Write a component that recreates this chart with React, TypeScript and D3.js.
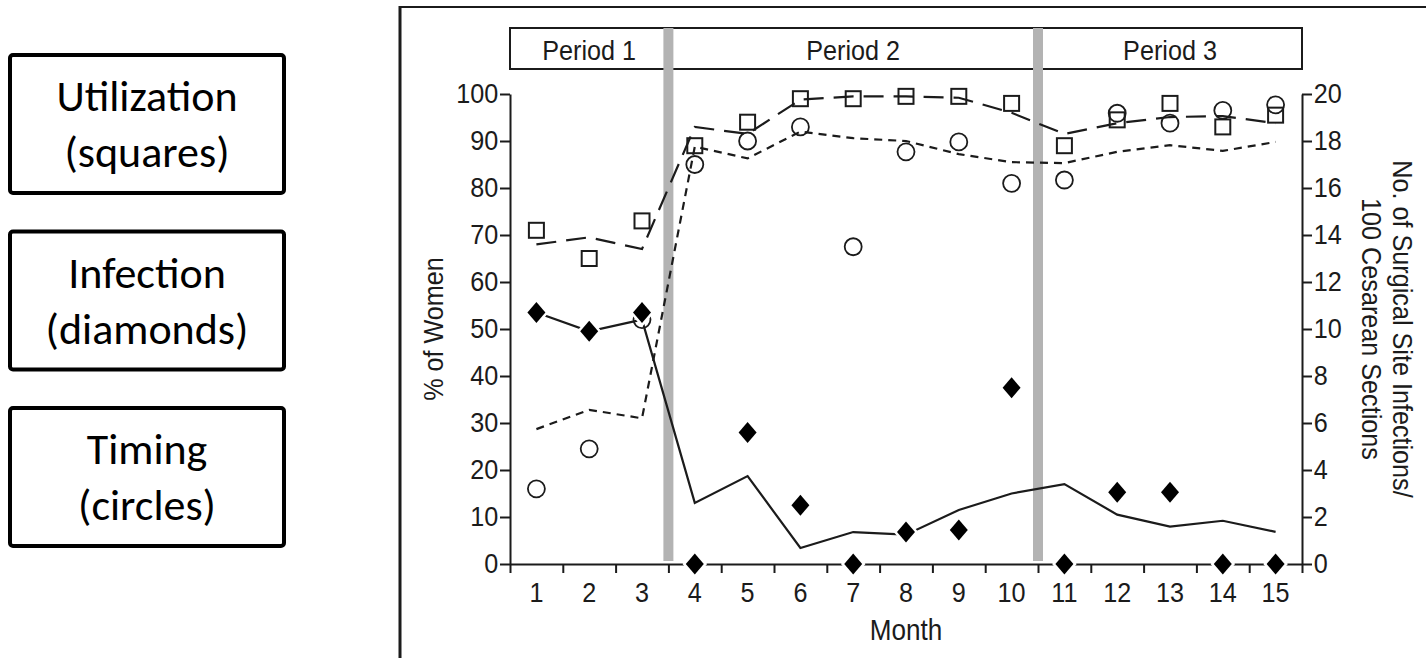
import React from "react";
import { select, scaleLinear, axisLeft, axisRight, axisBottom, line } from "d3";

// months on the x axis
const months = [1, 2, 3, 4, 5, 6, 7, 8, 9, 10, 11, 12, 13, 14, 15];
const halfTicks = [0.5, 1.5, 2.5, 3.5, 4.5, 5.5, 6.5, 7.5, 8.5, 9.5, 10.5, 11.5, 12.5, 13.5, 14.5, 15.5];
const leftTicks = [0, 10, 20, 30, 40, 50, 60, 70, 80, 90, 100];
const rightTicks = [0, 2, 4, 6, 8, 10, 12, 14, 16, 18, 20];

// % of women (left axis)
const utilization = [71, 65, 73, 89, 94, 99, 99, 99.5, 99.5, 98, 89, 94.5, 98, 93, 95.5];
const utilizationTrend = [68, 69.5, 67, 93, 91.5, 98.8, 99.5, 99.5, 99.2, 96, 91.5, 93.8, 95.1, 95.3, 93.8];
const timing = [16, 24.5, 52, 85, 90, 93, 67.5, 87.7, 89.8, 81, 81.7, 95.9, 93.8, 96.5, 97.7];
const timingTrend = [28.7, 32.8, 31, 88.8, 86.3, 92, 90.6, 90, 87.2, 85.5, 85.3, 87.7, 89.1, 87.9, 89.8];

// infections per 100 cesarean sections (right axis)
const infections = [10.7, 9.9, 10.7, 0, 5.6, 2.5, 0, 1.36, 1.45, 7.5, 0, 3.05, 3.05, 0, 0];
const infectionTrend = [10.7, 9.9, 10.4, 2.6, 3.74, 0.68, 1.36, 1.25, 2.3, 3.0, 3.4, 2.1, 1.59, 1.84, 1.37];

const periods = [
  { label: "Period 1", from: 0.5, to: 3.5 },
  { label: "Period 2", from: 3.5, to: 10.5 },
  { label: "Period 3", from: 10.5, to: 15.5 },
];
const periodBreaks = [3.5, 10.5];

const legendItems = [
  ["Utilization", "(squares)"],
  ["Infection", "(diamonds)"],
  ["Timing", "(circles)"],
];

const W = 1426;
const H = 658;
const INK = "#1b1b1b";
const FONT = "'Liberation Sans', Arial, sans-serif";
const SQ = 0.9; // condensed look

function App() {
  const svgRef = React.useRef<SVGSVGElement>(null);

  React.useEffect(() => {
    const svg = select(svgRef.current);
    svg.selectAll("*").remove();

    const x = scaleLinear().domain([0.5, 15.5]).range([510, 1302]);
    const yL = scaleLinear().domain([0, 100]).range([564, 94]);
    const yR = scaleLinear().domain([0, 20]).range([564, 94]);

    // legend boxes on the left
    const leg = svg.append("g");
    legendItems.forEach((item, i) => {
      const top = 55 + i * 176.5;
      leg
        .append("rect")
        .attr("x", 10)
        .attr("y", top)
        .attr("width", 274)
        .attr("height", 138)
        .attr("rx", 3)
        .attr("fill", "#fff")
        .attr("stroke", "#000")
        .attr("stroke-width", 4);
      item.forEach((t, j) => {
        leg
          .append("text")
          .attr("x", 147)
          .attr("y", top + 56 + j * 56)
          .attr("text-anchor", "middle")
          .attr("font-family", "Carlito, Lato, 'Open Sans', sans-serif")
          .attr("font-size", 44)
          .attr("fill", "#000")
          .text(t);
      });
    });

    // outer frame
    svg.append("line").attr("x1", 400).attr("x2", W).attr("y1", 7).attr("y2", 7)
      .attr("stroke", INK).attr("stroke-width", 2);
    svg.append("line").attr("x1", 400).attr("x2", 400).attr("y1", 6).attr("y2", H)
      .attr("stroke", INK).attr("stroke-width", 3);

    // period band
    const band = svg.append("g");
    band
      .append("rect")
      .attr("x", x(0.5))
      .attr("y", 28)
      .attr("width", x(15.5) - x(0.5))
      .attr("height", 41)
      .attr("fill", "#fff")
      .attr("stroke", INK)
      .attr("stroke-width", 2);
    band
      .selectAll("text")
      .data(periods)
      .join("text")
      .attr("transform", (d) => `translate(${(x(d.from) + x(d.to)) / 2},60) scale(${SQ},1)`)
      .attr("text-anchor", "middle")
      .attr("font-family", FONT)
      .attr("font-size", 28)
      .attr("fill", INK)
      .text((d) => d.label);

    // grey period separators
    svg
      .selectAll(".sep")
      .data(periodBreaks)
      .join("rect")
      .attr("class", "sep")
      .attr("x", (d) => x(d) - 5)
      .attr("y", 28)
      .attr("width", 10)
      .attr("height", 561 - 28)
      .attr("fill", "#b3b3b3");

    // axes
    const styleAxis = (g: any) => {
      g.attr("font-family", FONT).attr("font-size", 28);
      g.selectAll("path, line").attr("stroke", INK).attr("stroke-width", 2);
      g.selectAll("text").attr("fill", INK).attr("transform", `scale(${SQ},1)`);
    };
    svg
      .append("g")
      .attr("transform", `translate(${x(0.5)},0)`)
      .call(axisLeft(yL).tickValues(leftTicks).tickSize(10).tickSizeOuter(0).tickPadding(3))
      .call(styleAxis);
    svg
      .append("g")
      .attr("transform", `translate(${x(15.5)},0)`)
      .call(axisRight(yR).tickValues(rightTicks).tickSize(10).tickSizeOuter(0).tickPadding(3))
      .call(styleAxis);
    svg
      .append("g")
      .attr("transform", `translate(0,${yL(0)})`)
      .call(axisBottom(x).tickValues(halfTicks).tickFormat(() => "").tickSize(9).tickSizeOuter(0))
      .call(styleAxis);
    svg
      .append("g")
      .selectAll("text")
      .data(months)
      .join("text")
      .attr("transform", (d) => `translate(${x(d)},602) scale(${SQ},1)`)
      .attr("text-anchor", "middle")
      .attr("font-family", FONT)
      .attr("font-size", 28)
      .attr("fill", INK)
      .text((d) => d);

    // axis titles
    svg
      .append("text")
      .attr("transform", `translate(906,640) scale(${SQ},1)`)
      .attr("text-anchor", "middle")
      .attr("font-family", FONT)
      .attr("font-size", 29)
      .attr("fill", INK)
      .text("Month");
    svg
      .append("text")
      .attr("transform", `translate(443,329) rotate(-90) scale(${SQ},1)`)
      .attr("text-anchor", "middle")
      .attr("font-family", FONT)
      .attr("font-size", 28)
      .attr("fill", INK)
      .text("% of Women");
    ["No. of Surgical Site Infections/", "100 Cesarean Sections"].forEach((t, i) => {
      svg
        .append("text")
        .attr("transform", `translate(${1393 - i * 31},329) rotate(90) scale(${SQ},1)`)
        .attr("text-anchor", "middle")
        .attr("font-family", FONT)
        .attr("font-size", 28)
        .attr("fill", INK)
        .text(t);
    });

    // trend lines
    const lineL = line<number>()
      .x((_, i) => x(months[i]))
      .y((d) => yL(d));
    const lineR = line<number>()
      .x((_, i) => x(months[i]))
      .y((d) => yR(d));

    svg
      .append("path")
      .attr("d", lineL(utilizationTrend))
      .attr("fill", "none")
      .attr("stroke", INK)
      .attr("stroke-width", 2.2)
      .attr("stroke-dasharray", "20,10");
    svg
      .append("path")
      .attr("d", lineL(timingTrend))
      .attr("fill", "none")
      .attr("stroke", INK)
      .attr("stroke-width", 2.2)
      .attr("stroke-dasharray", "8,6");
    svg
      .append("path")
      .attr("d", lineR(infectionTrend))
      .attr("fill", "none")
      .attr("stroke", INK)
      .attr("stroke-width", 2.2);

    // markers
    svg
      .selectAll(".sq")
      .data(utilization)
      .join("rect")
      .attr("class", "sq")
      .attr("x", (_, i) => x(months[i]) - 7.5)
      .attr("y", (d) => yL(d) - 7.5)
      .attr("width", 15)
      .attr("height", 15)
      .attr("fill", "none")
      .attr("stroke", INK)
      .attr("stroke-width", 2);
    svg
      .selectAll(".ci")
      .data(timing)
      .join("circle")
      .attr("class", "ci")
      .attr("cx", (_, i) => x(months[i]))
      .attr("cy", (d) => yL(d))
      .attr("r", 8.5)
      .attr("fill", "none")
      .attr("stroke", INK)
      .attr("stroke-width", 1.8);
    svg
      .selectAll(".di")
      .data(infections)
      .join("path")
      .attr("class", "di")
      .attr("d", (d, i) => {
        const cx = x(months[i]);
        const cy = yR(d);
        return `M${cx},${cy - 10.5}L${cx + 9},${cy}L${cx},${cy + 10.5}L${cx - 9},${cy}Z`;
      })
      .attr("fill", "#000")
      .attr("stroke", "#fff")
      .attr("stroke-width", 5)
      .attr("paint-order", "stroke");
  }, []);

  return (
    <svg
      ref={svgRef}
      width={W}
      height={H}
      style={{ position: "absolute", left: 0, top: 0, background: "#fff" }}
    />
  );
}

export default App;
